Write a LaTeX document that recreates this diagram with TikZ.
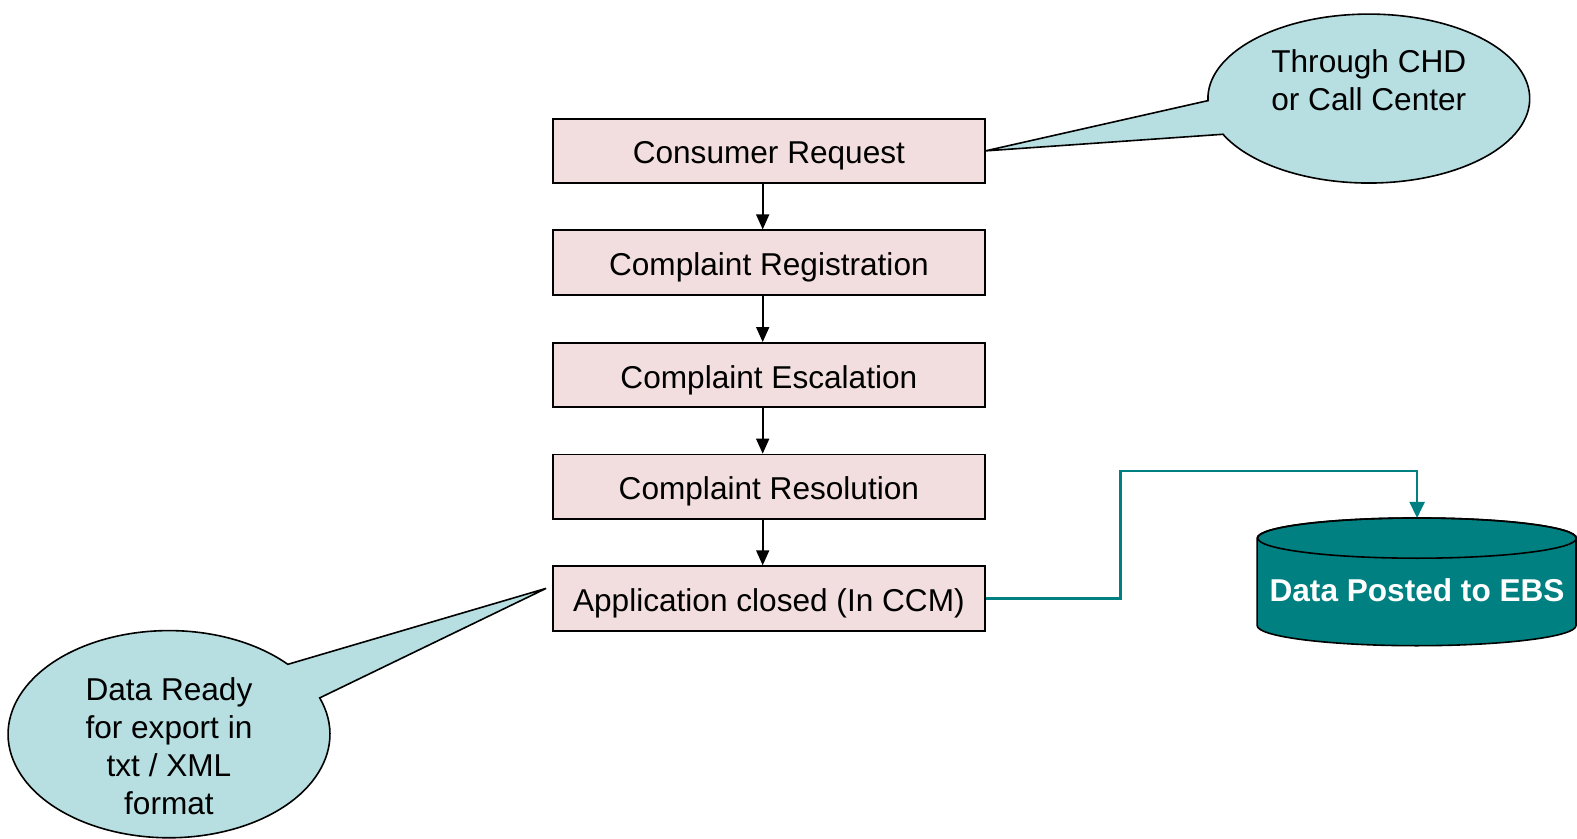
\documentclass[tikz,border=0pt]{standalone}
\usepackage{fontspec}
\setmainfont{Liberation Sans}
\usetikzlibrary{arrows.meta,calc}
\definecolor{boxpink}{HTML}{F2DEDE}
\definecolor{callblue}{HTML}{B7DFE1}
\definecolor{dbteal}{HTML}{008080}
\begin{document}
\begin{tikzpicture}[x=0.50287pt,y=-0.50287pt,
  font=\fontsize{15.8}{18.9}\selectfont,
  stepbox/.style={draw, line width=0.9pt, fill=boxpink, minimum width=215.7pt, minimum height=32.2pt, inner sep=0pt, text height=13.5pt, text depth=0.5pt},
  flow/.style={-{Triangle[width=6.5pt,length=7.5pt]}, line width=0.8pt},
  tealflow/.style={-{Triangle[width=7.5pt,length=8pt]}, line width=1.1pt, draw=dbteal, color=dbteal},
  callout/.style={fill=callblue, draw=black, line width=0.8pt},
  calltext/.style={align=center, inner sep=0pt}]
\useasboundingbox (0,0) rectangle (1568,834);

% flow boxes
\node[stepbox] (cr)  at (764.5,150) {Consumer Request};
\node[stepbox] (reg) at (764.5,261) {Complaint Registration};
\node[stepbox] (esc) at (764.5,373) {Complaint Escalation};
\node[stepbox] (res) at (764.5,484) {Complaint Resolution};
\node[stepbox] (ac)  at (764.5,595) {Application closed (In CCM)};

\draw[flow] ([xshift=-3.1pt]cr.south)  -- ([xshift=-3.1pt]reg.north);
\draw[flow] ([xshift=-3.1pt]reg.south) -- ([xshift=-3.1pt]esc.north);
\draw[flow] ([xshift=-3.1pt]esc.south) -- ([xshift=-3.1pt]res.north);
\draw[flow] ([xshift=-3.1pt]res.south) -- ([xshift=-3.1pt]ac.north);

% callout 1
\path[callout] (cr.east) -- (1201.05,100.05)
  arc[start angle=178.6, end angle=515, x radius=160, y radius=84] -- cycle;
\node[calltext] (t1) at (1361,80) {Through CHD\\or Call Center};

% callout 2
\coordinate (tip2) at (543,585);
\path[callout] (tip2) -- (317.9,693.9)
  arc[start angle=-20.5, end angle=317.6, x radius=160, y radius=103] -- cycle;
\node[calltext] (t2) at (168,742) {Data Ready\\for export in\\txt / XML\\format};

% cylinder
\path[fill=dbteal, draw=black, line width=0.8pt]
  (1250,535) -- (1250,622) arc[start angle=180, end angle=0, x radius=158.5, y radius=20]
  -- (1567,535) arc[start angle=0, end angle=-180, x radius=158.5, y radius=20] -- cycle;
\draw[line width=0.8pt] (1409,535) ellipse[x radius=158.5, y radius=20];
\coordinate (ebstop) at (1409,515);
\node[text=white, font=\fontsize{15.8}{18.9}\selectfont\bfseries] (ebs) at (1409,587) {Data Posted to EBS};

% teal connector
\draw[tealflow] (ac.east) -| (1114,468) -| (ebstop);
\end{tikzpicture}
\end{document}
